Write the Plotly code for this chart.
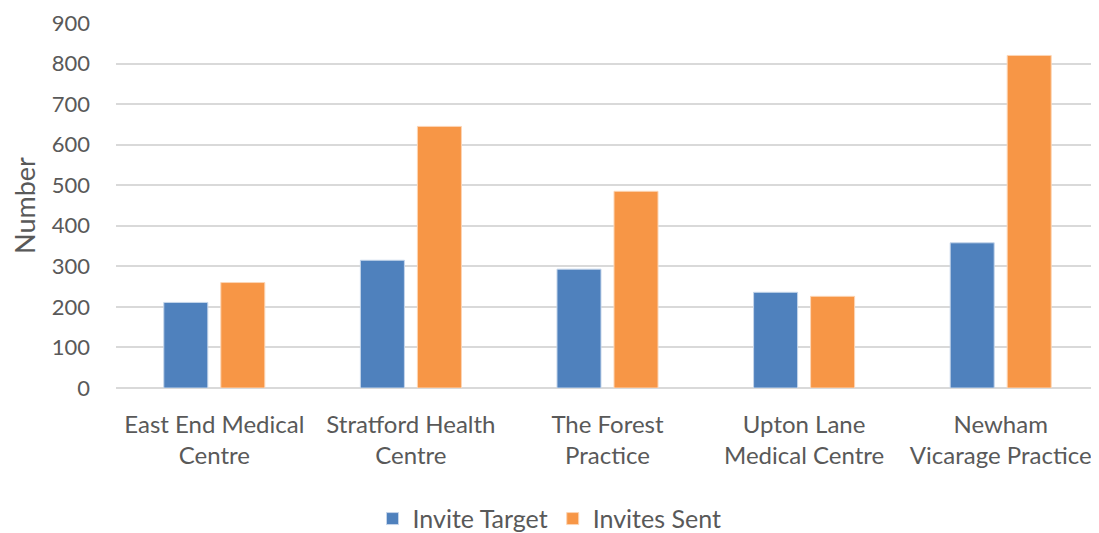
import plotly.graph_objects as go

practices = [
    "East End Medical<br>Centre",
    "Stratford Health<br>Centre",
    "The Forest<br>Practice",
    "Upton Lane<br>Medical Centre",
    "Newham<br>Vicarage Practice",
]
invite_target = [211, 315, 293, 236, 358]
invites_sent = [260, 645, 485, 226, 820]

grey_text = "#595959"
font_family = "Lato, Roboto, sans-serif"

fig = go.Figure()
fig.add_trace(go.Bar(
    x=practices, y=invite_target, name="Invite Target",
    marker=dict(color="#4F81BD", line=dict(color="#C5D5EA", width=1)),
))
fig.add_trace(go.Bar(
    x=practices, y=invites_sent, name="Invites Sent",
    marker=dict(color="#F79646", line=dict(color="#FCD5B5", width=1)),
))

# page body adds an 8px offset, so the figure is a little smaller than the window
fig.update_layout(
    width=1091, height=525,
    margin=dict(l=108, r=0, t=15, b=145, autoexpand=False),
    plot_bgcolor="white", paper_bgcolor="white",
    font=dict(family=font_family, size=24, color=grey_text),
    barmode="group", bargap=0.42, bargroupgap=0.228,
    legend=dict(orientation="h", x=0.441, xanchor="center",
                yref="container", y=0.027, yanchor="middle",
                font=dict(size=25), itemwidth=30),
    yaxis=dict(
        range=[0, 900], dtick=100, showgrid=True, gridcolor="#d9d9d9", gridwidth=1.5,
        zeroline=True, zerolinecolor="#d9d9d9", zerolinewidth=1.5,
        ticks="", ticklabelstandoff=25, automargin=False, ticklabeloverflow="allow",
        tickfont=dict(size=22),
        title=dict(text="Number", standoff=8, font=dict(size=27)),
    ),
    xaxis=dict(showline=False, ticks="", tickangle=0, ticklabelstandoff=20,
               automargin=False, ticklabeloverflow="allow"),
)

fig.write_html("out.html")
